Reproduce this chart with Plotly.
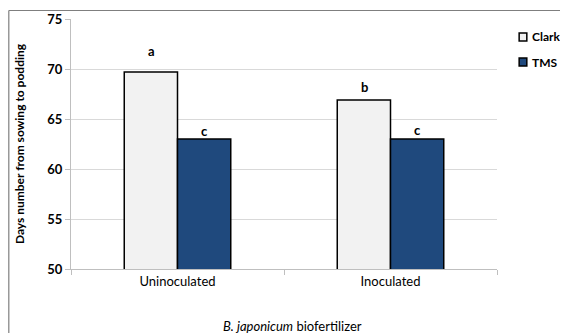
import plotly.graph_objects as go

categories = ["Uninoculated", "Inoculated"]
series_names = ["Clark", "TMS"]
clark = [69.7, 66.9]
tms = [63.0, 63.0]
clark_letters = ["a", "b"]
tms_letters = ["c", "c"]
y_ticks = [50, 55, 60, 65, 70, 75]

FONT = "Lato, Open Sans, sans-serif"
COLORS = ["#f2f2f2", "#1f497d"]

fig = go.Figure()
for name, vals, col in zip(series_names, [clark, tms], COLORS):
    fig.add_trace(go.Bar(
        name=name, x=categories, y=vals, showlegend=False,
        marker=dict(color=col, line=dict(color="#000000", width=1.5)),
    ))

# significance letters
clark_shift = [21, 13]
tms_shift = [8, 9]
for i, c in enumerate(categories):
    fig.add_annotation(x=c, y=clark[i], text="<b>%s</b>" % clark_letters[i],
                       xshift=-26.5, yshift=clark_shift[i], showarrow=False,
                       font=dict(size=13, color="#000", family=FONT))
    fig.add_annotation(x=c, y=tms[i], text="<b>%s</b>" % tms_letters[i],
                       xshift=26.5, yshift=tms_shift[i], showarrow=False,
                       font=dict(size=13, color="#000", family=FONT))

# legend (small squares + labels, Excel style)
leg_y = [0.928, 0.828]
for name, col, yy in zip(series_names, COLORS, leg_y):
    fig.add_shape(type="rect", xref="paper", yref="paper",
                  x0=1.052, x1=1.070, y0=yy - 0.016, y1=yy + 0.016,
                  fillcolor=col, line=dict(color="#000", width=1.5))
    fig.add_annotation(xref="paper", yref="paper", x=1.078, y=yy,
                       xanchor="left", yanchor="middle", showarrow=False,
                       text="<b>%s</b>" % name,
                       font=dict(size=12, color="#000", family=FONT))

# x-axis title (slightly right of centre, as in the original)
fig.add_annotation(xref="paper", yref="paper", x=0.52, y=-0.226,
                   xanchor="center", yanchor="middle", showarrow=False,
                   text="<i>B. japonicum</i> biofertilizer",
                   font=dict(size=13, color="#000", family=FONT))

# outer chart frame (top and left)
fig.add_shape(type="line", xref="paper", yref="paper", layer="above",
              x0=-0.146, x1=1.3, y0=1.034, y1=1.034,
              line=dict(color="#7f7f7f", width=1.2))
fig.add_shape(type="line", xref="paper", yref="paper", layer="above",
              x0=-0.146, x1=-0.146, y0=1.034, y1=-0.4,
              line=dict(color="#7f7f7f", width=1.2))

# the page body has an 8px margin, so the figure is 8px smaller than the window
fig.update_layout(
    width=560, height=325,
    margin=dict(l=63, r=71, t=11, b=63.5, autoexpand=False),
    paper_bgcolor="white", plot_bgcolor="white",
    barmode="group", bargap=0.5, bargroupgap=0,
    font=dict(family=FONT, color="#000"),
    showlegend=False,
    xaxis=dict(
        type="category", tickson="boundaries", ticks="outside", ticklen=5,
        tickcolor="#bfbfbf", showline=True, linecolor="#bfbfbf", linewidth=1,
        tickfont=dict(size=13, family=FONT), automargin=False,
        showgrid=False,
    ),
    yaxis=dict(
        range=[50, 75], tickvals=y_ticks, ticktext=["<b>%d</b>" % v for v in y_ticks],
        ticks="outside", ticklen=5, tickcolor="#bfbfbf",
        showline=True, linecolor="#bfbfbf", linewidth=1,
        showgrid=True, gridcolor="#d9d9d9", gridwidth=1,
        zeroline=False, automargin=False,
        tickfont=dict(size=13, family=FONT),
        title=dict(text="<b>Days number from sowing to podding</b>",
                   font=dict(size=12, family=FONT), standoff=20),
    ),
)

fig.write_html("out.html")
